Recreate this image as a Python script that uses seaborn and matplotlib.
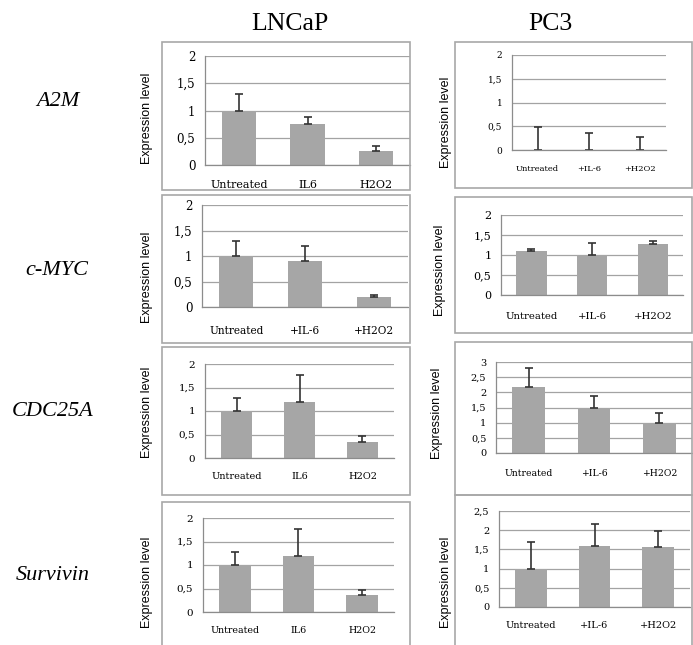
import numpy as np
import matplotlib.pyplot as plt
import seaborn as sns
from matplotlib.patches import Rectangle
from matplotlib.ticker import FuncFormatter

# values (bar height and upper error)
genes = ['A2M', 'c-MYC', 'CDC25A', 'Survivin']
lncap_labels = [['Untreated', 'IL6', 'H2O2'],
                ['Untreated', '+IL-6', '+H2O2'],
                ['Untreated', 'IL6', 'H2O2'],
                ['Untreated', 'IL6', 'H2O2']]
pc3_labels = ['Untreated', '+IL-6', '+H2O2']

lncap_a2m = [1.0, 0.75, 0.26]
lncap_a2m_err = [0.30, 0.13, 0.09]
lncap_myc = [1.0, 0.91, 0.19]
lncap_myc_err = [0.30, 0.29, 0.05]
lncap_cdc = [1.0, 1.20, 0.35]
lncap_cdc_err = [0.27, 0.57, 0.11]
lncap_surv = [1.0, 1.20, 0.36]
lncap_surv_err = [0.28, 0.57, 0.11]

pc3_a2m = [0.0, 0.0, 0.0]
pc3_a2m_err = [0.49, 0.36, 0.27]
pc3_myc = [1.10, 1.0, 1.27]
pc3_myc_err = [0.06, 0.30, 0.09]
pc3_cdc = [2.18, 1.49, 1.0]
pc3_cdc_err = [0.62, 0.40, 0.31]
pc3_surv = [1.0, 1.60, 1.57]
pc3_surv_err = [0.68, 0.56, 0.41]

W, H = 693, 645
sns.set_style('white')
plt.rcParams['font.family'] = 'DejaVu Serif'
plt.rcParams['text.color'] = 'black'
plt.rcParams['xtick.color'] = 'black'
plt.rcParams['ytick.color'] = 'black'

fig = plt.figure(figsize=(W / 100, H / 100), dpi=100)

BAR = '#a6a6a6'
GRID = '#a3a3a3'
BOX = '#a8a8a8'


def box(l, r, t, b):
    fig.patches.append(Rectangle((l / W, 1 - b / H), (r - l) / W, (b - t) / H,
                                 transform=fig.transFigure, fill=False,
                                 edgecolor=BOX, lw=1.2))


def panel(l, r, t, b, labels, vals, errs, ymax, fs, pad, ylab_x, ylab_y, yfs=None):
    ax = fig.add_axes([l / W, 1 - b / H, (r - l) / W, (b - t) / H])
    ax.patch.set_alpha(0)
    sns.barplot(x=labels, y=vals, color=BAR, width=0.5, saturation=1,
                edgecolor='none', ax=ax)
    ax.errorbar(np.arange(3), vals, yerr=[np.zeros(3), errs], fmt='none',
                ecolor='#333333', elinewidth=1.2, capsize=3, capthick=1.2)
    ax.set_xlim(-0.5, 2.5)
    ax.set_ylim(0, ymax)
    ax.set_yticks(np.arange(0, ymax + 0.01, 0.5))
    ax.yaxis.set_major_formatter(FuncFormatter(lambda v, p: f'{v:g}'.replace('.', ',')))
    ax.set_xticks([-0.5, 0.5, 1.5, 2.5], minor=True)
    ax.tick_params(axis='x', which='major', length=0, pad=pad, labelsize=fs,
                   labelcolor='black')
    ax.tick_params(axis='x', which='minor', length=4, color='#8c8c8c', direction='out')
    ax.tick_params(axis='y', length=4, color='#8c8c8c', direction='out', pad=3,
                   labelsize=yfs or fs, labelcolor='black')
    ax.yaxis.grid(True, color=GRID, lw=0.9)
    ax.set_axisbelow(True)
    ax.set_xlabel('')
    ax.set_ylabel('')
    for s in ['top', 'right']:
        ax.spines[s].set_visible(False)
    for s in ['left', 'bottom']:
        ax.spines[s].set_color('#8c8c8c')
        ax.spines[s].set_linewidth(0.9)
    fig.text(ylab_x / W, 1 - ylab_y / H, 'Expression level', rotation=90,
             ha='center', va='center', fontsize=9, family='Liberation Sans')
    return ax


# boxes around each chart
box(162, 410, 42, 190)
box(162, 410, 195, 343)
box(162, 410, 347, 495)
box(162, 410, 502, 648)
box(455, 692, 42, 188)
box(455, 692, 197, 333)
box(455, 692, 342, 495)
box(455, 692, 495, 648)

# LNCaP column
panel(205, 410, 56, 165, lncap_labels[0], lncap_a2m, lncap_a2m_err, 2, 8, 11, 147, 118, 8.5)
panel(202, 408, 205, 307, lncap_labels[1], lncap_myc, lncap_myc_err, 2, 7.6, 13.4, 147, 277, 8.5)
panel(205, 394, 364, 458, lncap_labels[2], lncap_cdc, lncap_cdc_err, 2, 7, 10.2, 147, 412, 7.5)
panel(203, 394, 518, 612, lncap_labels[3], lncap_surv, lncap_surv_err, 2, 6.8, 10.3, 147, 582, 7.5)

# PC3 column
panel(512, 666, 55, 150, pc3_labels, pc3_a2m, pc3_a2m_err, 2, 6, 10.8, 446, 122, 6.5)
panel(501, 683, 215, 295, pc3_labels, pc3_myc, pc3_myc_err, 2, 7.3, 12.2, 440, 270, 8)
panel(496, 692, 362, 453, pc3_labels, pc3_cdc, pc3_cdc_err, 3, 6.7, 11.8, 437, 413, 7)
panel(499, 690, 511, 607, pc3_labels, pc3_surv, pc3_surv_err, 2.5, 7, 10.2, 446, 582, 7)

# column titles and gene names
fig.text(290 / W, 1 - 24 / H, 'LNCaP', ha='center', va='center',
         fontsize=18.5, family='Liberation Serif')
fig.text(550 / W, 1 - 24 / H, 'PC3', ha='center', va='center',
         fontsize=18.5, family='Liberation Serif')
for g, x, y in zip(genes, [58, 57, 53, 53], [102, 270, 412, 576]):
    fig.text(x / W, 1 - y / H, g, ha='center', va='center', fontsize=16,
             style='italic', family='Liberation Serif')

fig.savefig('out.png', dpi=100, facecolor='white')
